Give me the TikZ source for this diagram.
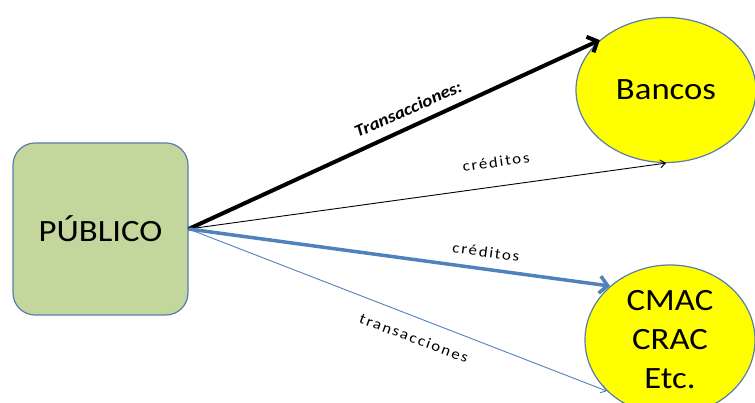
\documentclass[tikz,border=0pt]{standalone}
\usepackage{fontspec}
\setmainfont{Carlito}[FakeStretch=1.12]
\newfontfamily\spacedfont{Carlito}[FakeStretch=1.12,LetterSpace=12]
\usetikzlibrary{arrows.meta,shapes.geometric}
\definecolor{boxgreen}{HTML}{C3D69B}
\definecolor{edgeblue}{HTML}{5B7DAA}
\definecolor{flowblue}{HTML}{4F81BD}
\definecolor{bankyellow}{RGB}{255,255,0}
\tikzset{
  entity/.style={draw=edgeblue, line width=1.2pt, font=\fontsize{31}{39}\selectfont, align=center, inner sep=0pt},
  bank/.style={entity, ellipse, fill=bankyellow},
  flowlabel/.style={inner sep=0pt, font=\spacedfont\fontsize{15}{18}\selectfont},
  heavy/.style={line width=4pt, -{Straight Barb[length=8pt,width=17pt]}},
  light/.style={line width=0.9pt, -{Straight Barb[length=5pt,width=8pt]}}
}
\begin{document}
\begin{tikzpicture}[x=1pt,y=1pt]
  \useasboundingbox (0,0) rectangle (755,403);
  \clip (0,0) rectangle (755,403);

  % the three parties
  \node[entity, rectangle, rounded corners=22pt, fill=boxgreen,
        minimum width=175pt, minimum height=172pt] (pub) at (100.5,174) {PÚBLICO};
  \node[bank, minimum width=180pt, minimum height=145pt] (bancos) at (666,313) {Bancos};
  \node[bank, minimum width=170pt, minimum height=150pt] (cmac) at (670,63) {CMAC\\CRAC\\Etc.};

  % flows from the public
  \draw[heavy, black] (pub.east) -- (bancos.143);
  \draw[light, black] (pub.east) -- (bancos.south);
  \draw[heavy, flowblue, line width=3.5pt] (pub.east) -- (cmac.138);
  \draw[light, flowblue] (pub.east) -- (cmac.219);

  % flow labels
  \node[inner sep=0pt, rotate=24, font=\fontsize{17}{20}\selectfont\bfseries\itshape]
       (l1) at (408,294) {Transacciones:};
  \node[flowlabel, rotate=8.1] (l2) at (496,241) {créditos};
  \node[flowlabel, rotate=-7.7] (l3) at (486,151) {créditos};
  \node[flowlabel, rotate=-20.5] (l4) at (414,65) {transacciones};
\end{tikzpicture}
\end{document}
